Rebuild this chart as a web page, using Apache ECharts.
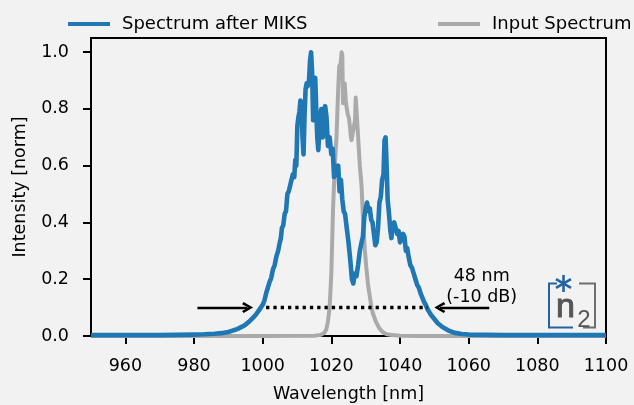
<!DOCTYPE html>
<html>
<head>
<meta charset="utf-8">
<script src="https://cdn.jsdelivr.net/npm/echarts@6/dist/echarts.min.js"></script>
<style>
html,body{margin:0;padding:0;background:#f2f2f2;}
#c{width:634px;height:405px;}
</style>
</head>
<body>
<div id="c"></div>
<script>
// ---- data ----
const seriesNames = ['Spectrum after MIKS', 'Input Spectrum'];
const xTicks = [960, 980, 1000, 1020, 1040, 1060, 1080, 1100];
const yTicks = [0, 0.2, 0.4, 0.6, 0.8, 1.0];

const afterMiks = [
[950,0.003],[960,0.003],[970,0.003],[975,0.004],[980,0.005],[983,0.006],[986,0.008],[988,0.01],
[990,0.014],[991,0.018],[992,0.022],[993,0.027],[994,0.033],[995,0.04],[996,0.05],[997,0.062],
[998,0.075],[999,0.092],[1000,0.11],[1000.5,0.125],[1001,0.15],[1001.5,0.17],[1002,0.19],[1002.5,0.205],
[1003,0.235],[1003.5,0.25],[1004,0.28],[1004.5,0.30],[1005,0.33],[1005.3,0.345],[1005.6,0.38],[1006,0.39],
[1006.4,0.43],[1006.8,0.44],[1007.2,0.5],[1007.6,0.51],[1008,0.53],[1008.4,0.55],[1008.8,0.57],[1009.2,0.56],
[1009.5,0.62],[1009.8,0.6],[1010.1,0.74],[1010.4,0.77],[1010.7,0.79],[1011,0.83],[1011.3,0.82],[1011.6,0.70],
[1011.9,0.64],[1012.2,0.78],[1012.5,0.87],[1012.8,0.89],[1013.1,0.88],[1013.5,0.9],[1013.8,0.97],[1014.1,1.0],
[1014.4,0.93],[1014.7,0.76],[1015,0.86],[1015.3,0.91],[1015.6,0.8],[1015.9,0.7],[1016.2,0.655],[1016.5,0.72],
[1016.8,0.78],[1017.1,0.8],[1017.5,0.7],[1017.8,0.79],[1018.2,0.81],[1018.6,0.77],[1019,0.67],[1019.5,0.70],
[1020,0.64],[1020.4,0.66],[1020.8,0.56],[1021.2,0.6],[1021.6,0.58],[1022,0.6],[1022.4,0.51],[1022.8,0.55],
[1023.2,0.48],[1023.6,0.44],[1024,0.43],[1024.5,0.38],[1025,0.33],[1025.5,0.27],[1026,0.2],[1026.4,0.185],
[1026.8,0.22],[1027.3,0.21],[1027.8,0.25],[1028.3,0.3],[1028.8,0.33],[1029.2,0.35],[1029.6,0.42],[1030,0.45],
[1030.4,0.47],[1030.8,0.44],[1031.2,0.45],[1031.6,0.41],[1032,0.40],[1032.4,0.36],[1032.8,0.32],[1033.2,0.33],
[1033.6,0.38],[1034,0.47],[1034.4,0.49],[1034.8,0.55],[1035.2,0.57],[1035.5,0.69],[1035.8,0.70],[1036.1,0.60],
[1036.4,0.48],[1036.8,0.43],[1037.2,0.37],[1037.5,0.345],[1037.9,0.39],[1038.3,0.40],[1038.8,0.40],[1039.2,0.36],
[1039.6,0.37],[1040,0.33],[1040.4,0.34],[1040.9,0.36],[1041.3,0.35],[1041.7,0.30],[1042.1,0.31],[1042.5,0.28],
[1043,0.25],[1043.5,0.24],[1044,0.22],[1044.5,0.2],[1045,0.18],[1045.5,0.17],[1046,0.15],[1046.5,0.135],
[1047,0.12],[1047.5,0.11],[1048,0.095],[1048.5,0.085],[1049,0.075],[1050,0.06],[1051,0.045],[1052,0.035],
[1053,0.027],[1054,0.02],[1055,0.015],[1056,0.011],[1058,0.007],[1060,0.005],[1065,0.004],[1070,0.003],
[1080,0.003],[1090,0.003],[1100,0.003]
];

const inputSpectrum = [
[950,0],[1000,0],[1015,0.001],[1017,0.004],[1018,0.012],[1018.5,0.022],[1019,0.05],[1019.5,0.1],
[1020,0.22],[1020.5,0.45],[1021,0.6],[1021.5,0.7],[1022,0.87],[1022.3,0.95],[1022.7,0.96],[1023,1.0],
[1023.2,0.99],[1023.4,0.82],[1023.7,0.86],[1023.9,0.89],[1024.2,0.83],[1024.4,0.81],[1024.8,0.78],[1025.1,0.77],
[1025.4,0.74],[1025.7,0.70],[1025.9,0.69],[1026.3,0.72],[1026.6,0.74],[1026.9,0.76],[1027.1,0.84],[1027.4,0.84],
[1027.7,0.72],[1028,0.66],[1028.3,0.60],[1028.8,0.53],[1029.2,0.42],[1029.7,0.31],[1030.2,0.24],[1030.7,0.18],
[1031.2,0.14],[1031.7,0.10],[1032.1,0.08],[1033,0.05],[1034,0.027],[1035,0.013],[1036,0.007],[1037,0.004],
[1040,0.001],[1045,0],[1100,0]
];

// annotation (data coordinates)
const level = 0.1;
const leftArrow = [981, 995.6];
const rightArrow = [1066, 1051.6];
const dottedSpan = [1001, 1048];
const annotationAt = [1063.8, 0.174];
const annotationText = '48 nm\n(-10 dB)';

// ---- chart ----
const FONT = 'DejaVu Sans';
const FS = 17.5;
const chart = echarts.init(document.getElementById('c'), null, {renderer: 'canvas'});
const chevron = 'path://M5,0 L10,8.6 L8,10 L5,4.2 L2,10 L0,8.6 Z';

const option = {
  backgroundColor: '#f2f2f2',
  animation: false,
  textStyle: {fontFamily: FONT},
  grid: {left: 91, right: 28, top: 38, bottom: 69, show: true, borderColor: '#000', borderWidth: 2,
    backgroundColor: 'transparent', containLabel: false, outerBoundsMode: 'none'},
  legend: [
    {data: [seriesNames[0]], left: 68, top: 15, padding: 0, icon: 'rect', itemWidth: 42, itemHeight: 4,
     textStyle: {fontFamily: FONT, fontSize: 18, color: '#000', padding: [0, 0, 0, 7]}},
    {data: [seriesNames[1]], left: 438, top: 15, padding: 0, icon: 'rect', itemWidth: 42, itemHeight: 4,
     textStyle: {fontFamily: FONT, fontSize: 18, color: '#000', padding: [0, 0, 0, 7]}}
  ],
  xAxis: {
    type: 'value', min: 950, max: 1100,
    name: 'Wavelength [nm]', nameLocation: 'middle', nameGap: 49,
    nameTextStyle: {fontFamily: FONT, fontSize: FS, color: '#000'},
    axisLine: {show: true, lineStyle: {color: '#000', width: 2}},
    axisTick: {show: true, length: 8, lineStyle: {color: '#000', width: 2}, customValues: xTicks},
    axisLabel: {fontFamily: FONT, fontSize: FS, color: '#000', margin: 21, customValues: xTicks,
      formatter: v => String(v)},
    splitLine: {show: false}
  },
  yAxis: {
    type: 'value', min: 0, max: 1.05,
    name: 'Intensity [norm]', nameLocation: 'middle', nameGap: 62,
    nameTextStyle: {fontFamily: FONT, fontSize: FS, color: '#000'},
    axisLine: {show: true, lineStyle: {color: '#000', width: 2}},
    axisTick: {show: true, length: 8, lineStyle: {color: '#000', width: 2}, customValues: yTicks},
    axisLabel: {fontFamily: FONT, fontSize: FS, color: '#000', margin: 22, customValues: yTicks,
      formatter: v => v.toFixed(1)},
    splitLine: {show: false}
  },
  series: [
    {
      name: seriesNames[1], type: 'line', data: inputSpectrum, showSymbol: false, symbol: 'none',
      lineStyle: {color: '#aaaaaa', width: 4, join: 'round'}, itemStyle: {color: '#aaaaaa'},
      z: 2
    },
    {
      name: seriesNames[0], type: 'line', data: afterMiks, showSymbol: false, symbol: 'none',
      lineStyle: {color: '#1f77b4', width: 4.6, join: 'round'}, itemStyle: {color: '#1f77b4'},
      z: 3,
      markLine: {
        silent: true, animation: false, symbol: ['none', 'none'],
        label: {show: false},
        emphasis: {disabled: true},
        data: [
          [{coord: [leftArrow[0], level], symbol: 'none'},
           {coord: [leftArrow[1], level], symbol: chevron, symbolSize: [11, 11],
            lineStyle: {color: '#000', width: 2.4, type: 'solid'}}],
          [{coord: [rightArrow[0], level], symbol: 'none'},
           {coord: [rightArrow[1], level], symbol: chevron, symbolSize: [11, 11],
            lineStyle: {color: '#000', width: 2.4, type: 'solid'}}],
          [{coord: [dottedSpan[0], level], symbol: 'none'},
           {coord: [dottedSpan[1], level], symbol: 'none',
            lineStyle: {color: '#000', width: 3.3, type: [3.3, 4]}}]
        ]
      },
      markPoint: {
        silent: true, animation: false,
        data: [{coord: annotationAt, symbol: 'circle', symbolSize: 0,
          label: {show: true, position: 'inside', formatter: annotationText,
            fontFamily: FONT, fontSize: FS, lineHeight: 21, color: '#000'}}]
      }
    }
  ],
  graphic: [
    {type: 'polyline', silent: true, z: 100,
     shape: {points: [[557, 283.5], [549, 283.5], [549, 327.5], [573, 327.5]]},
     style: {stroke: '#25629f', lineWidth: 2, fill: null}},
    {type: 'polyline', silent: true, z: 100,
     shape: {points: [[579, 283.5], [595, 283.5], [595, 327.5], [583, 327.5]]},
     style: {stroke: '#6e6e6e', lineWidth: 2, fill: null}},
    {type: 'line', silent: true, z: 100, shape: {x1: 563.5, y1: 275, x2: 563.5, y2: 292},
     style: {stroke: '#25629f', lineWidth: 2.6}},
    {type: 'line', silent: true, z: 100, shape: {x1: 556, y1: 279.2, x2: 571, y2: 287.8},
     style: {stroke: '#25629f', lineWidth: 2.6}},
    {type: 'line', silent: true, z: 100, shape: {x1: 556, y1: 287.8, x2: 571, y2: 279.2},
     style: {stroke: '#25629f', lineWidth: 2.6}},
    {type: 'text', silent: true, z: 100, x: 565.5, y: 308,
     style: {text: 'n', fontFamily: 'Liberation Sans', fontSize: 34, fill: '#555555',
       stroke: '#555555', lineWidth: 1, align: 'center', verticalAlign: 'middle'}},
    {type: 'text', silent: true, z: 100, x: 584, y: 320.5,
     style: {text: '2', fontFamily: 'Liberation Sans', fontSize: 24, fill: '#555555',
       align: 'center', verticalAlign: 'middle'}}
  ]
};
chart.setOption(option);
</script>
</body>
</html>
